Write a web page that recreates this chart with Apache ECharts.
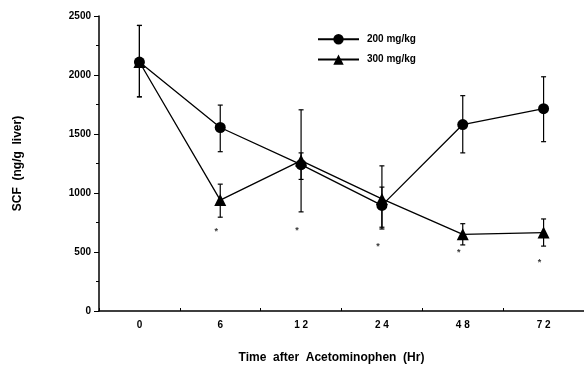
<!DOCTYPE html>
<html><head><meta charset="utf-8">
<script src="https://cdn.jsdelivr.net/npm/echarts@6/dist/echarts.min.js"></script>
<style>html,body{margin:0;padding:0;background:#fff}#c{width:584px;height:369px}</style>
</head><body><div id="c"></div>
<script>
const categories = ['0', '6', '12', '24', '48', '72'];
const dose200 = [2110, 1555, 1240, 895, 1580, 1715];
const dose200Low = [1815, 1350, 1115, 695, 1340, 1435];
const dose200High = [2420, 1745, 1340, 1230, 1825, 1985];
const dose300 = [2110, 940, 1275, 950, 650, 665];
const dose300Low = [1815, 795, 840, 710, 560, 550];
const dose300High = [2420, 1075, 1705, 1050, 740, 780];
const asteriskPos = [null, 690, 700, 565, 510, 430];
const yTicks = [0, 500, 1000, 1500, 2000, 2500];

const font = '"Liberation Sans", Arial, sans-serif';
const errData = [];
categories.forEach((c, i) => {
  errData.push([i, dose200Low[i], dose200High[i]]);
  errData.push([i, dose300Low[i], dose300High[i]]);
});
const astData = [];
asteriskPos.forEach((v, i) => { if (v !== null) astData.push([i, v]); });

const chart = echarts.init(document.getElementById('c'));
chart.setOption({
  animation: false,
  backgroundColor: '#fff',
  grid: { left: 99, top: 16, width: 488, height: 298 },
  legend: {
    orient: 'vertical', left: 312, top: 29, itemWidth: 41, itemHeight: 13, itemGap: 10,
    textStyle: { fontFamily: font, fontWeight: 'bold', fontSize: 10, color: '#000', padding: [0, 0, 0, 3] },
    data: ['200 mg/kg', '300 mg/kg']
  },
  xAxis: {
    type: 'category', data: categories,
    name: 'Time  after  Acetominophen  (Hr)', nameLocation: 'middle', nameGap: 41,
    nameTextStyle: { fontFamily: font, fontWeight: 'bold', fontSize: 12, color: '#000', padding: [0, 0, 0, -20] },
    axisLine: { lineStyle: { color: '#000', width: 1.5 } },
    axisTick: { show: true, length: 3, inside: true, lineStyle: { color: '#000' } },
    axisLabel: { fontFamily: font, fontWeight: 'bold', fontSize: 10, color: '#000', margin: 9,
      formatter: v => v.split('').join(' ') },
    splitLine: { show: false }
  },
  yAxis: {
    type: 'value', min: 0, max: 2500, interval: 500,
    name: 'SCF  (ng/g  liver)', nameLocation: 'middle', nameGap: 75, nameRotate: 90,
    nameTextStyle: { fontFamily: font, fontWeight: 'bold', fontSize: 12, color: '#000' },
    axisLine: { show: true, lineStyle: { color: '#000', width: 1.5 } },
    axisTick: { show: true, length: 5, lineStyle: { color: '#000' } },
    minorTick: { show: true, splitNumber: 2, length: 3, lineStyle: { color: '#000' } },
    axisLabel: { fontFamily: font, fontWeight: 'bold', fontSize: 10, color: '#000', margin: 8,
      formatter: v => String(v) },
    splitLine: { show: false }
  },
  series: [
    {
      type: 'custom', name: 'err', silent: true, z: 1,
      renderItem: (params, api) => {
        const x = api.coord([api.value(0), api.value(1)])[0];
        const lo = api.coord([api.value(0), api.value(1)])[1];
        const hi = api.coord([api.value(0), api.value(2)])[1];
        const s = { stroke: '#000', lineWidth: 1.2 };
        return { type: 'group', children: [
          { type: 'line', shape: { x1: x, y1: lo, x2: x, y2: hi }, style: s },
          { type: 'line', shape: { x1: x - 2.5, y1: lo, x2: x + 2.5, y2: lo }, style: s },
          { type: 'line', shape: { x1: x - 2.5, y1: hi, x2: x + 2.5, y2: hi }, style: s }
        ] };
      },
      data: errData
    },
    {
      name: '200 mg/kg', type: 'line', data: dose200, symbol: 'circle', symbolSize: 11,
      itemStyle: { color: '#000' }, lineStyle: { color: '#000', width: 1.3 }, z: 3
    },
    {
      name: '300 mg/kg', type: 'line', data: dose300, symbol: 'triangle', symbolSize: 12,
      itemStyle: { color: '#000' }, lineStyle: { color: '#000', width: 1.3 }, z: 3
    },
    {
      type: 'scatter', name: 'sig', data: astData, symbol: 'circle', symbolSize: 4,
      itemStyle: { color: 'rgba(0,0,0,0)' }, silent: true,
      label: { show: true, formatter: '*', position: 'inside', offset: [-4, 2], fontSize: 9, fontWeight: 'bold', color: '#000', fontFamily: font }
    }
  ]
});
</script></body></html>
